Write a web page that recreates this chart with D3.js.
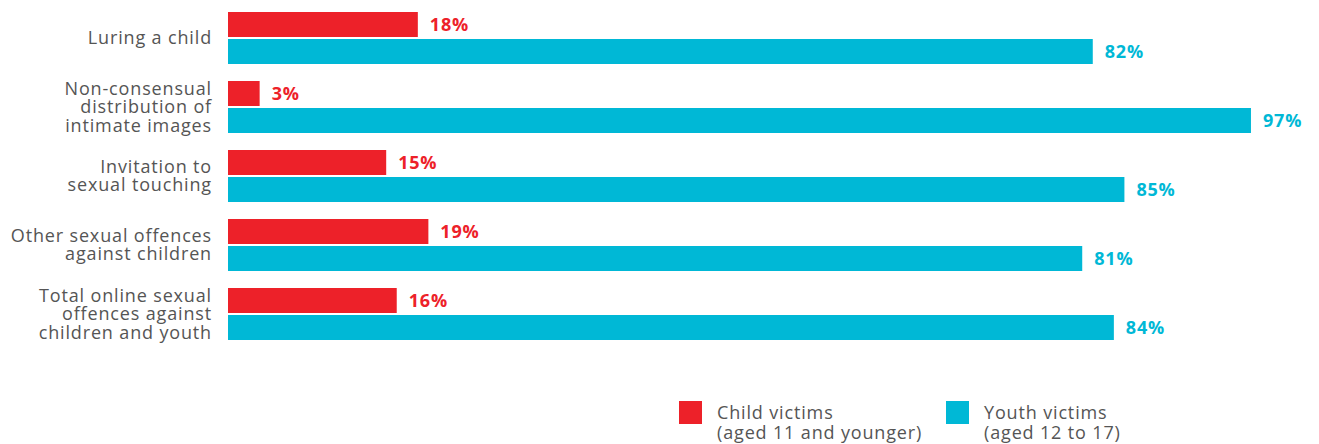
<!DOCTYPE html>
<html>
<head>
<meta charset="utf-8">
<script src="https://cdn.jsdelivr.net/npm/d3@7"></script>
<style>
  body { margin: 0; background: #fff; }
  svg text { font-family: "Open Sans", sans-serif; }
</style>
</head>
<body>
<svg id="chart" width="1319" height="444"></svg>
<script>
// categories, each split into its label lines
var categories = [
  ["Luring a child"],
  ["Non-consensual", "distribution of", "intimate images"],
  ["Invitation to", "sexual touching"],
  ["Other sexual offences", "against children"],
  ["Total online sexual", "offences against", "children and youth"]
];
var childValues = [18, 3, 15, 19, 16];
var youthValues = [82, 97, 85, 81, 84];
var seriesKeys = ["child", "youth"];
var legendLabels = [
  ["Child victims", "(aged 11 and younger)"],
  ["Youth victims", "(aged 12 to 17)"]
];

var colors = {child: "#ED2129", youth: "#00B8D6"};

var svg = d3.select("#chart");
var left = 228;

// x scale: percent -> pixels
var x = d3.scaleLinear().domain([0, 100]).range([left, left + 1054.6]);

// y scale: one band per category, then a sub band per series
var ids = categories.map(function(d, i) { return i; });
var y = d3.scaleBand().domain(ids).range([12, 340]).paddingInner(17 / 69);
var ySub = d3.scaleBand().domain(seriesKeys).range([0, y.bandwidth()])
  .paddingInner(2 / 27);

var data = ids.map(function(i) {
  return {id: i, lines: categories[i], child: childValues[i], youth: youthValues[i]};
});

var groups = svg.selectAll(".group")
  .data(data)
  .enter().append("g")
  .attr("class", "group")
  .attr("transform", function(d) { return "translate(0," + y(d.id) + ")"; });

// bars
groups.selectAll("rect")
  .data(function(d) { return seriesKeys.map(function(k) { return {key: k, value: d[k]}; }); })
  .enter().append("rect")
  .attr("x", x(0))
  .attr("y", function(d) { return ySub(d.key); })
  .attr("width", function(d) { return x(d.value) - x(0); })
  .attr("height", ySub.bandwidth())
  .attr("fill", function(d) { return colors[d.key]; });

// value labels
groups.selectAll(".value")
  .data(function(d) { return seriesKeys.map(function(k) { return {key: k, value: d[k]}; }); })
  .enter().append("text")
  .attr("class", "value")
  .attr("x", function(d) { return x(d.value) + 12; })
  .attr("y", function(d) { return ySub(d.key) + ySub.bandwidth() / 2; })
  .attr("dy", "0.36em")
  .attr("fill", function(d) { return colors[d.key]; })
  .style("font-size", "18px")
  .style("font-weight", "bold")
  .style("letter-spacing", "0.8px")
  .text(function(d) { return d.value + "%"; });

// category labels
var lineHeight = 18.5;
groups.append("text")
  .attr("class", "cat")
  .attr("text-anchor", "end")
  .attr("fill", "#555")
  .style("font-size", "18px")
  .style("letter-spacing", "0.85px")
  .each(function(d) {
    var t = d3.select(this);
    var n = d.lines.length;
    var mid = y.bandwidth() / 2;
    d.lines.forEach(function(line, j) {
      t.append("tspan")
        .attr("x", 212)
        .attr("y", mid + (j - (n - 1) / 2) * lineHeight + 6)
        .text(line);
    });
  });

// legend
var legend = svg.selectAll(".legend")
  .data(seriesKeys)
  .enter().append("g")
  .attr("class", "legend")
  .attr("transform", function(d, i) { return "translate(" + (679 + i * 267) + ",401)"; });

legend.append("rect")
  .attr("width", 23)
  .attr("height", 23)
  .attr("fill", function(d) { return colors[d]; });

legend.append("text")
  .attr("fill", "#555")
  .style("font-size", "18px")
  .style("letter-spacing", "0.85px")
  .each(function(d, i) {
    var t = d3.select(this);
    legendLabels[i].forEach(function(line, j) {
      t.append("tspan")
        .attr("x", 38)
        .attr("y", 18 + j * 20)
        .text(line);
    });
  });
</script>
</body>
</html>
